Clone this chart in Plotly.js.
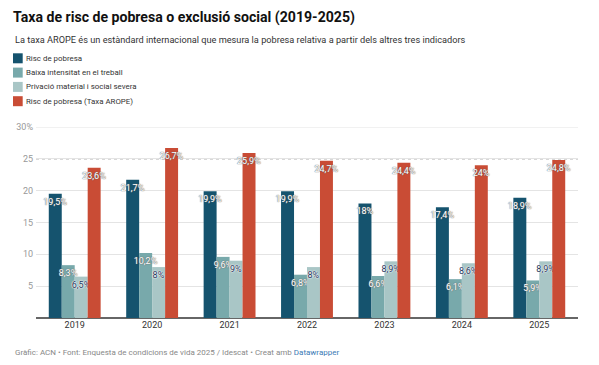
<!DOCTYPE html>
<html>
<head>
<meta charset="utf-8">
<script src="https://cdn.plot.ly/plotly-3.0.1.min.js"></script>
<style>html,body{margin:0;padding:0;background:#fff;}#chart{width:599px;height:365px;}</style>
</head>
<body>
<div id="chart"></div>
<script>
const years = ['2019','2020','2021','2022','2023','2024','2025'];
const seriesNames = ['Risc de pobresa','Baixa intensitat en el treball','Privació material i social severa','Risc de pobresa (Taxa AROPE)'];
const riscPobresa = [19.5, 21.7, 19.9, 19.9, 18, 17.4, 18.9];
const baixaIntensitat = [8.3, 10.2, 9.6, 6.8, 6.6, 6.1, 5.9];
const privacioMaterial = [6.5, 8, 9, 8, 8.9, 8.6, 8.9];
const taxaArope = [23.6, 26.7, 25.9, 24.7, 24.4, 24, 24.8];
const yTickVals = [5, 10, 15, 20, 25, 30];
const yTickText = ['5', '10', '15', '20', '25', '30%'];
const refLineValue = 25;
const yMax = 30;

const colors = ['#15536e', '#78a9ab', '#a9c6c6', '#c94c35'];
const seriesData = [riscPobresa, baixaIntensitat, privacioMaterial, taxaArope];
const darkHalo = '0 0 1px #666, 0 0 1px #666';
const lightHalo = '0 0 1px #fff, 0 0 1px #fff, 0 0 2px #fff';
const labelColors = ['#ffffff', '#ffffff', '#26365a', '#ffffff'];
const labelHalos = [darkHalo, darkHalo, lightHalo, darkHalo];

const fmt = v => String(v).replace('.', ',') + '%';

const traces = seriesData.map((vals, i) => ({
  type: 'bar',
  name: seriesNames[i],
  x: years,
  y: vals,
  marker: {color: colors[i], line: {width: 0}},
  text: vals.map(fmt),
  textposition: 'inside',
  insidetextanchor: 'end',
  textangle: 0,
  constraintext: 'none',
  cliponaxis: false,
  textfont: {family: 'Roboto, sans-serif', size: 9, color: labelColors[i], shadow: labelHalos[i]},
  hoverinfo: 'skip',
  showlegend: false
}));

const shapes = [
  {type: 'line', xref: 'paper', yref: 'y', x0: 0, x1: 1, y0: yMax, y1: yMax,
   line: {color: '#e4e4e4', width: 1}, layer: 'between'},
  {type: 'line', xref: 'paper', yref: 'y', x0: 0, x1: 1, y0: refLineValue, y1: refLineValue,
   line: {color: '#ffffff', width: 1.5}, layer: 'between'},
  {type: 'line', xref: 'paper', yref: 'y', x0: 0, x1: 1, y0: refLineValue, y1: refLineValue,
   line: {color: '#888888', width: 1, dash: 'dot'}, layer: 'between'}
];
const annotations = [];
const topPx = 127;
const legendTop = 58.3, legendStep = 14.3;
seriesNames.forEach((n, i) => {
  const cy = legendTop + i * legendStep;
  shapes.push({type: 'rect', xref: 'paper', yref: 'paper', xsizemode: 'pixel', ysizemode: 'pixel',
    xanchor: 0, yanchor: 1, x0: 13 - 36, x1: 22.7 - 36, y0: -(cy - 5 - topPx), y1: -(cy + 5 - topPx),
    fillcolor: colors[i], line: {width: 0}});
  annotations.push({xref: 'paper', yref: 'paper', xanchor: 'left', yanchor: 'middle',
    x: 0, y: 1, xshift: 24.3 - 36, yshift: -(cy - topPx), showarrow: false,
    text: n, font: {family: 'Roboto, sans-serif', size: 7.9, color: '#333333'}});
});
annotations.push({xref: 'paper', yref: 'paper', xanchor: 'left', yanchor: 'middle',
  x: 0, y: 0, xshift: 13 - 36, yshift: -(352 - 318), showarrow: false,
  text: 'Gràfic: ACN • Font: Enquesta de condicions de vida 2025 / Idescat • Creat amb <span style="color:#3a7ab5">Datawrapper</span>',
  font: {family: 'Roboto, sans-serif', size: 8, color: '#888888'}});
annotations.push({xref: 'paper', yref: 'paper', xanchor: 'left', yanchor: 'middle',
  x: 0, y: 1, xshift: 13 - 36, yshift: -(39 - topPx), showarrow: false,
  text: 'La taxa AROPE és un estàndard internacional que mesura la pobresa relativa a partir dels altres tres indicadors',
  font: {family: 'Roboto, sans-serif', size: 9.2, color: '#333333'}});

const layout = {
  width: 599, height: 365,
  margin: {l: 36, r: 21, t: topPx, b: 47},
  paper_bgcolor: '#ffffff', plot_bgcolor: '#ffffff',
  title: {text: '<b>Taxa de risc de pobresa o exclusió social (2019-2025)</b>',
    xref: 'container', yref: 'container', x: 13/599, xanchor: 'left', y: 1 - 16.7/365, yanchor: 'middle',
    font: {family: 'Roboto, sans-serif', size: 14.1, color: '#111111'}},
  barmode: 'group', bargap: 0.33, bargroupgap: 0,
  xaxis: {type: 'category', tickfont: {family: 'Roboto, sans-serif', size: 9, color: '#333333'},
    showgrid: false, zeroline: false, showline: false, ticks: '', fixedrange: true},
  yaxis: {range: [0, yMax], tickvals: yTickVals, ticktext: yTickText,
    tickfont: {family: 'Roboto, sans-serif', size: 9, color: '#999999'},
    gridcolor: '#e4e4e4', gridwidth: 1, zeroline: true, zerolinecolor: '#666666', zerolinewidth: 1.5,
    showline: false, ticks: '', ticklabelstandoff: 2, fixedrange: true},
  shapes: shapes,
  annotations: annotations,
  showlegend: false,
  font: {family: 'Roboto, sans-serif'}
};

Plotly.newPlot('chart', traces, layout, {displayModeBar: false, staticPlot: true});
</script>
</body>
</html>
